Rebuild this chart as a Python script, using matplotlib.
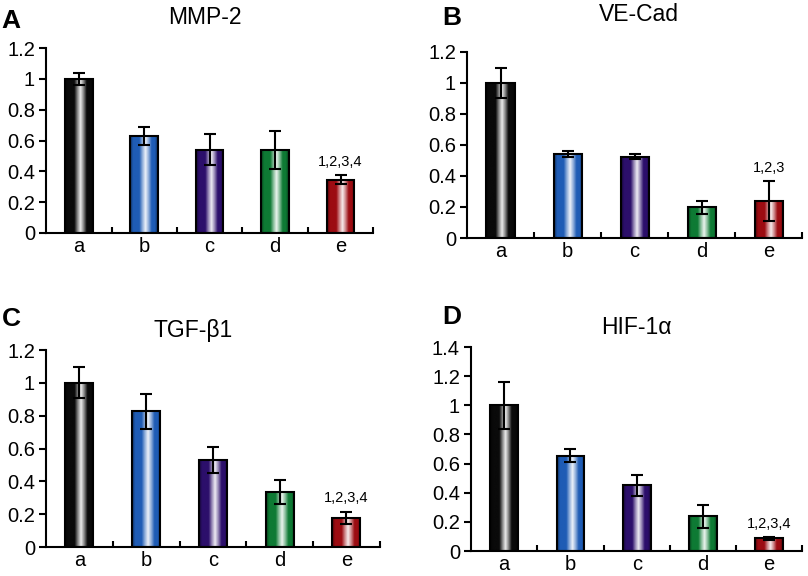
import numpy as np
import matplotlib
matplotlib.use("Agg")
import matplotlib.pyplot as plt
from matplotlib.colors import LinearSegmentedColormap, to_rgb

plt.rcParams['font.family'] = ['Liberation Sans', 'DejaVu Sans']

groups = ['a', 'b', 'c', 'd', 'e']
bar_colors = ['#0a0a0a', '#1f5cb5', '#2c0f6b', '#0e7a34', '#9c0c12']

mmp2 = [1.0, 0.63, 0.54, 0.54, 0.346]
mmp2_err = [0.04, 0.056, 0.10, 0.125, 0.028]

vecad = [1.0, 0.54, 0.523, 0.197, 0.238]
vecad_err = [0.098, 0.02, 0.016, 0.04, 0.128]

tgfb1 = [1.0, 0.828, 0.532, 0.335, 0.177]
tgfb1_err = [0.095, 0.106, 0.08, 0.071, 0.037]

hif1a = [1.0, 0.655, 0.452, 0.237, 0.087]
hif1a_err = [0.16, 0.045, 0.073, 0.078, 0.012]

panels = [
    ('A', 'MMP-2', mmp2, mmp2_err, 1.2, '1,2,3,4'),
    ('B', 'VE-Cad', vecad, vecad_err, 1.2, '1,2,3'),
    ('C', 'TGF-β1', tgfb1, tgfb1_err, 1.2, '1,2,3,4'),
    ('D', 'HIF-1α', hif1a, hif1a_err, 1.4, '1,2,3,4'),
]

# axes boxes [left, bottom, width, height]
boxes = [
    [0.057, 0.5955, 0.405, 0.321],
    [0.578, 0.5868, 0.415, 0.323],
    [0.057, 0.0503, 0.413, 0.342],
    [0.583, 0.0434, 0.410, 0.354],
]
letter_pos = [(0.002, 0.985), (0.547, 0.990), (0.002, 0.467), (0.547, 0.470)]
title_pos = [(0.254, 0.970), (0.791, 0.974), (0.239, 0.426), (0.788, 0.431)]


def shade_cmap(c):
    base = np.array(to_rgb(c))
    dark = base * 0.5
    light = base + (1 - base) * 0.5
    white = base + (1 - base) * 0.92
    return LinearSegmentedColormap.from_list(
        'shade', [dark, base, base, base, light, white, light, base, base, dark])


fig = plt.figure(figsize=(8.08, 5.76), dpi=100)

for (letter, title, vals, errs, ymax, note), box, lp, tp in zip(panels, boxes, letter_pos, title_pos):
    ax = fig.add_axes(box)
    x = np.arange(len(groups))
    bars = ax.bar(x, vals, width=0.42, color='none', edgecolor='black', linewidth=1.5, zorder=3)
    grad = np.linspace(0, 1, 256).reshape(1, -1)
    for b, c in zip(bars, bar_colors):
        x0, y0 = b.get_x(), b.get_y()
        im = ax.imshow(grad, cmap=shade_cmap(c), aspect='auto', zorder=2,
                       extent=[x0, x0 + b.get_width(), y0, y0 + b.get_height()])
        im.set_clip_path(b)
    ax.errorbar(x, vals, yerr=errs, fmt='none', ecolor='black', elinewidth=1.5,
                capsize=4, capthick=1.5, zorder=4)
    ax.text(x[-1], vals[-1] + errs[-1] + 0.04, note, ha='center', va='bottom', fontsize=10.5)

    ax.set_xlim(-0.5, 4.5)
    ax.set_ylim(0, ymax)
    ax.set_yticks(np.arange(0, ymax + 0.01, 0.2))
    ax.set_yticklabels(['0'] + ['%g' % v for v in np.arange(0.2, ymax + 0.01, 0.2)])
    ax.set_xticks(x)
    ax.set_xticklabels(groups)
    ax.set_xticks(np.arange(0.5, 5, 1), minor=True)
    ax.tick_params(axis='x', which='major', length=0, labelsize=14.5, pad=3)
    ax.tick_params(axis='x', which='minor', direction='in', length=4, width=1.5)
    ax.tick_params(axis='y', direction='out', length=5, width=1.5, labelsize=14.5, pad=3)
    for s in ['top', 'right']:
        ax.spines[s].set_visible(False)
    for s in ['left', 'bottom']:
        ax.spines[s].set_linewidth(1.5)

    fig.text(lp[0], lp[1], letter, fontsize=19, fontweight='bold', ha='left', va='top')
    fig.text(tp[0], tp[1], title, fontsize=16.5, ha='center', va='center')

fig.savefig('out.png', dpi=100)
